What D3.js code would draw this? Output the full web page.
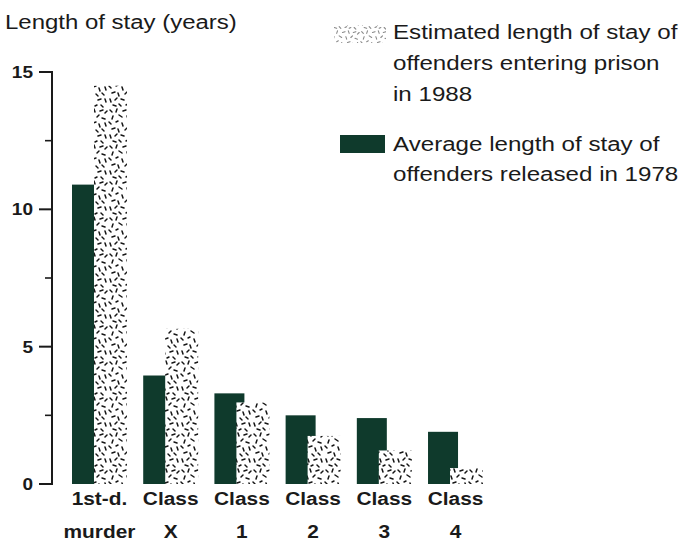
<!DOCTYPE html>
<html>
<head>
<meta charset="utf-8">
<script src="https://cdn.jsdelivr.net/npm/d3@7"></script>
<style>
  html, body { margin: 0; padding: 0; background: #fff; }
  svg { display: block; }
  text { font-family: "Liberation Sans", Arial, Helvetica, sans-serif; fill: #1a1a1a; }
</style>
</head>
<body>
<svg id="chart" width="681" height="542"></svg>
<script>
// ---------- data ----------
const categories = ["1st-d. murder", "Class X", "Class 1", "Class 2", "Class 3", "Class 4"];
const categoryLines = [["1st-d.", "murder"], ["Class", "X"], ["Class", "1"], ["Class", "2"], ["Class", "3"], ["Class", "4"]];
const released1978 = [10.9, 3.95, 3.3, 2.5, 2.4, 1.9];   // dark bars
const entering1988 = [14.5, 5.65, 2.97, 1.75, 1.22, 0.58]; // stippled bars
const yTicksMajor = [0, 5, 10, 15];
const yTicksMinor = [2.5, 7.5, 12.5];
const yTitle = "Length of stay (years)";
const legendStipple = ["Estimated length of stay of", "offenders entering prison", "in 1988"];
const legendDark = ["Average length of stay of", "offenders released in 1978"];

// ---------- layout ----------
const svg = d3.select("#chart");
const darkColor = "#0f3a2c";
const inkColor = "#1a1a1a";

const x = d3.scaleBand().domain(categories).range([72, 483]).paddingInner(0.228).paddingOuter(0);
const y = d3.scaleLinear().domain([0, 15]).range([484, 72]);
const darkW = 30, stipOff = 22;

// stipple pattern (fixed hand-placed dashes)
const dashes = [
  [2,2,4,4],[9,1,8,4],[15,3,18,2],[22,1,23,4],[28,3,31,2],[33,5,35,3],
  [5,8,4,11],[11,7,14,9],[19,8,20,11],[25,9,27,7],[30,10,33,11],
  [1,14,3,16],[8,14,10,13],[14,15,15,18],[21,15,24,14],[27,16,28,19],[33,15,34,18],
  [4,21,7,20],[10,21,11,24],[17,22,19,20],[24,22,26,24],[30,21,32,23],
  [2,27,3,30],[7,28,9,26],[13,27,16,28],[20,27,21,30],[26,28,29,27],[33,27,34,30],
  [5,33,8,34],[11,32,13,34],[18,33,20,32],[23,34,25,33],[29,33,31,35]
];
const defs = svg.append("defs");
function makePattern(id, color, sw, size) {
  const p = defs.append("pattern").attr("id", id).attr("patternUnits", "userSpaceOnUse")
    .attr("width", size).attr("height", size);
  p.append("rect").attr("width", size).attr("height", size).attr("fill", "#fff");
  const k = size / 36;
  p.selectAll("line").data(dashes).join("line")
    .attr("x1", d => d[0] * k).attr("y1", d => d[1] * k).attr("x2", d => d[2] * k).attr("y2", d => d[3] * k)
    .attr("stroke", color).attr("stroke-width", sw).attr("stroke-linecap", "round");
}
makePattern("stip", "#151515", 1.5, 36);
makePattern("stipLight", "#8a8a8a", 1.1, 30);

// helper: horizontally stretched text
function stext(g, str, tx, ty, size, weight, anchor, sx) {
  return g.append("text")
    .attr("transform", `translate(${tx},${ty}) scale(${sx},1)`)
    .attr("font-size", size).attr("font-weight", weight)
    .attr("text-anchor", anchor).text(str);
}

// ---------- axis ----------
const axisG = svg.append("g");
axisG.append("line").attr("x1", 52).attr("x2", 52).attr("y1", y(15) - 1).attr("y2", y(0) + 1)
  .attr("stroke", inkColor).attr("stroke-width", 2);
axisG.selectAll("line.major").data(yTicksMajor).join("line").attr("class", "major")
  .attr("x1", 39).attr("x2", 52).attr("y1", d => y(d)).attr("y2", d => y(d))
  .attr("stroke", inkColor).attr("stroke-width", 2);
axisG.selectAll("line.minor").data(yTicksMinor).join("line").attr("class", "minor")
  .attr("x1", 45).attr("x2", 52).attr("y1", d => y(d)).attr("y2", d => y(d))
  .attr("stroke", inkColor).attr("stroke-width", 1.6);
yTicksMajor.forEach(v => stext(axisG, String(v), 33, y(v) + 6, 17, "bold", "end", 1.12));

stext(svg, yTitle, 5, 29, 19.5, "normal", "start", 1.23);

// ---------- bars ----------
const barsG = svg.append("g");
barsG.selectAll("rect.dark").data(categories).join("rect").attr("class", "dark")
  .attr("x", d => x(d)).attr("width", darkW)
  .attr("y", (d, i) => y(released1978[i])).attr("height", (d, i) => y(0) - y(released1978[i]))
  .attr("fill", darkColor);
barsG.selectAll("rect.stip").data(categories).join("rect").attr("class", "stip")
  .attr("x", d => x(d) + stipOff).attr("width", x.bandwidth() - stipOff)
  .attr("y", (d, i) => y(entering1988[i])).attr("height", (d, i) => y(0) - y(entering1988[i]))
  .attr("fill", "url(#stip)");

// ---------- category labels ----------
const labG = svg.append("g");
categories.forEach((c, i) => {
  const cx = x(c) + x.bandwidth() / 2;
  stext(labG, categoryLines[i][0], cx, 505, 18.5, "bold", "middle", 1.13);
  stext(labG, categoryLines[i][1], cx, 538, 18.5, "bold", "middle", 1.13);
});

// ---------- legend ----------
const legG = svg.append("g");
legG.append("rect").attr("x", 334).attr("y", 25).attr("width", 52).attr("height", 18).attr("fill", "url(#stipLight)");
legG.append("rect").attr("x", 340).attr("y", 135).attr("width", 45).attr("height", 18).attr("fill", darkColor);
legendStipple.forEach((t, i) => stext(legG, t, 393, 39 + i * 31, 21, "normal", "start", 1.15));
legendDark.forEach((t, i) => stext(legG, t, 393, 151 + i * 30, 21, "normal", "start", 1.15));
</script>
</body>
</html>
